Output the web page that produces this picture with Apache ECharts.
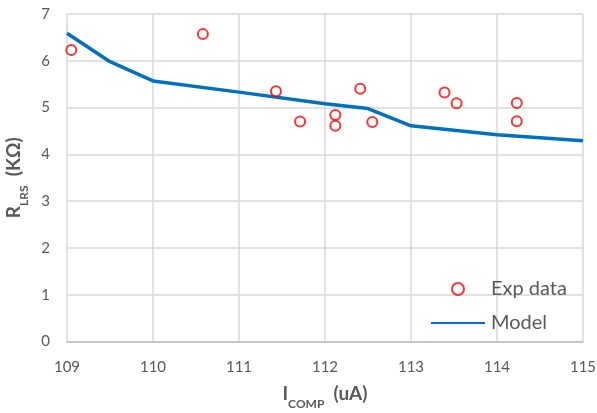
<!DOCTYPE html>
<html>
<head>
<meta charset="utf-8">
<script src="https://cdn.jsdelivr.net/npm/echarts@6/dist/echarts.min.js"></script>
<style>
  html, body { margin: 0; padding: 0; background: #fff; }
  #chart { width: 597px; height: 413px; }
</style>
</head>
<body>
<div id="chart"></div>
<script>
// Measured resistance vs compliance current
const expCurrent = [109.05, 110.58, 111.43, 111.71, 112.12, 112.12, 112.41, 112.55, 113.39, 113.53, 114.23, 114.23];
const expResistance = [6.23, 6.57, 5.35, 4.70, 4.84, 4.61, 5.40, 4.69, 5.32, 5.09, 5.10, 4.71];

// Model curve
const modelCurrent = [109, 109.5, 110, 111, 112, 112.5, 113, 114, 115];
const modelResistance = [6.59, 5.98, 5.57, 5.33, 5.08, 4.98, 4.61, 4.42, 4.29];

const seriesNames = ['Exp data', 'Model'];

const font = 'Lato, "Open Sans", sans-serif';
const textGrey = '#595959';

const nameRich = {
  big: { fontFamily: font, fontSize: 19, fontWeight: 'bold', color: textGrey },
  sub: { fontFamily: font, fontSize: 12, fontWeight: 'bold', color: textGrey, verticalAlign: 'bottom', padding: [0, 0, -7, 0] }
};

const chart = echarts.init(document.getElementById('chart'), null, { renderer: 'canvas' });

chart.setOption({
  animation: false,
  backgroundColor: '#ffffff',
  grid: { left: 67, right: 14, top: 14, bottom: 71.5, containLabel: false, outerBoundsMode: 'none' },
  xAxis: {
    type: 'value',
    min: 109, max: 115, interval: 1,
    name: '{big|I}{sub|COMP}{big|  (uA)}',
    nameLocation: 'middle',
    nameGap: 43,
    nameTextStyle: { rich: nameRich },
    axisLine: { show: true, lineStyle: { color: '#bfbfbf', width: 1.5 } },
    axisTick: { show: false },
    axisLabel: { fontFamily: font, fontSize: 15, color: textGrey, margin: 18 },
    splitLine: { show: true, lineStyle: { color: '#d9d9d9', width: 1.5 } }
  },
  yAxis: {
    type: 'value',
    min: 0, max: 7, interval: 1,
    name: '{big|R}{sub|LRS}{big|  (KΩ)}',
    nameLocation: 'middle',
    nameRotate: 90,
    nameGap: 37,
    nameTextStyle: { rich: nameRich },
    axisLine: { show: false },
    axisTick: { show: false },
    axisLabel: { fontFamily: font, fontSize: 15, color: textGrey, margin: 17 },
    splitLine: { show: true, lineStyle: { color: '#d9d9d9', width: 1.5 } }
  },
  legend: {
    orient: 'vertical',
    left: 430,
    top: 279,
    padding: 0,
    itemWidth: 54,
    itemHeight: 12,
    itemGap: 14,
    textStyle: { fontFamily: font, fontSize: 20, color: textGrey, padding: [0, 0, 0, 1] },
    data: [
      { name: seriesNames[0] },
      { name: seriesNames[1], itemStyle: { opacity: 0 } }
    ]
  },
  series: [
    {
      name: seriesNames[0],
      type: 'scatter',
      symbol: 'emptyCircle',
      symbolSize: 10,
      itemStyle: { color: '#ff0000', borderColor: '#ff0000', borderWidth: 2.8 },
      data: expCurrent.map((x, i) => [x, expResistance[i]]),
      z: 3
    },
    {
      name: seriesNames[1],
      type: 'line',
      symbol: 'none',
      showSymbol: false,
      lineStyle: { color: '#0070c0', width: 3.5 },
      itemStyle: { color: '#0070c0' },
      data: modelCurrent.map((x, i) => [x, modelResistance[i]]),
      z: 2
    }
  ]
});
</script>
</body>
</html>
